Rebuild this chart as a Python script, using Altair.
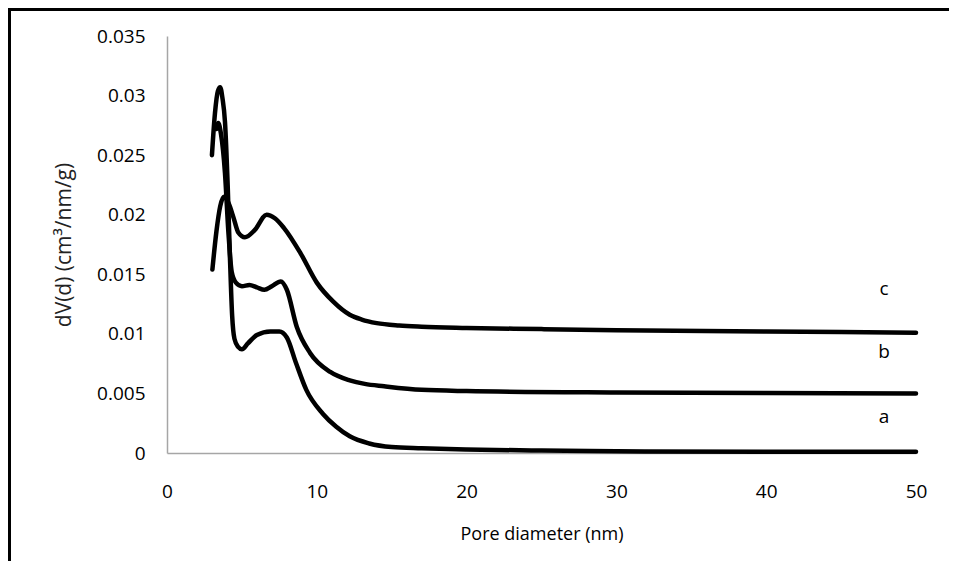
import altair as alt
import pandas as pd

# Curve a (no offset)
a_x = [3.0, 3.2, 3.4, 3.55, 3.7, 3.87, 4.05, 4.2, 4.35, 4.5, 4.75, 5.0, 5.4, 6.0, 6.9, 7.5, 8.0, 8.6, 9.3, 10.4, 11.3, 12.2, 13.5, 15, 17, 20, 25, 30, 40, 50]
a_y = [0.0250, 0.0285, 0.0304, 0.0307, 0.0298, 0.0278, 0.0225, 0.0165, 0.0115, 0.0096, 0.0089, 0.0087, 0.0092, 0.0099, 0.0102, 0.0102, 0.0097, 0.0076, 0.0053, 0.0033, 0.0022, 0.0014, 0.0008, 0.0005, 0.0004, 0.0003, 0.0002, 0.00015, 0.0001, 0.0001]

# Curve b (offset 0.005)
b_x = [3.3, 3.42, 3.6, 3.87, 4.1, 4.32, 4.6, 5.0, 5.5, 6.0, 6.5, 7.0, 7.6, 8.0, 8.66, 9.55, 10.9, 12.2, 13.2, 14.5, 17, 20, 30, 40, 50]
b_y = [0.0272, 0.0277, 0.0268, 0.0235, 0.0185, 0.0152, 0.0143, 0.0140, 0.0141, 0.0139, 0.0137, 0.0140, 0.0144, 0.0137, 0.0106, 0.0084, 0.0068, 0.0061, 0.0058, 0.0056, 0.0053, 0.0052, 0.00508, 0.00503, 0.0050]

# Curve c (offset 0.01)
c_x = [3.03, 3.3, 3.55, 3.8, 4.1, 4.43, 4.76, 5.2, 5.85, 6.65, 7.2, 7.8, 8.9, 10.0, 11.1, 12.2, 13.0, 14.0, 15.5, 17, 20, 25, 30, 40, 50]
c_y = [0.0154, 0.0186, 0.0207, 0.0215, 0.0210, 0.0198, 0.0185, 0.0181, 0.0187, 0.0200, 0.0197, 0.0189, 0.0168, 0.0143, 0.0127, 0.0116, 0.0112, 0.0109, 0.0107, 0.0106, 0.0105, 0.0104, 0.0103, 0.0102, 0.0101]

label_names = ["c", "b", "a"]
label_x = [47.86, 47.86, 47.86]
label_y = [0.01376, 0.00847, 0.00302]

x_ticks = [0, 10, 20, 30, 40, 50]
y_ticks = [0, 0.005, 0.01, 0.015, 0.02, 0.025, 0.03, 0.035]

rows = []
for name, xs, ys in (("a", a_x, a_y), ("b", b_x, b_y), ("c", c_x, c_y)):
    for i, (xv, yv) in enumerate(zip(xs, ys)):
        rows.append({"series": name, "d": xv, "v": yv, "order": i})
df = pd.DataFrame(rows)
labels = pd.DataFrame({"t": label_names, "d": label_x, "v": label_y})

FONT = "Open Sans"
xscale = alt.Scale(domain=[0, 50], nice=False)
yscale = alt.Scale(domain=[0, 0.035], nice=False)

lines = alt.Chart(df).mark_line(
    color="black", strokeWidth=4.5, interpolate="monotone", strokeCap="round", strokeJoin="round"
).encode(
    x=alt.X("d:Q", scale=xscale, axis=alt.Axis(
        values=x_ticks, title="Pore diameter (nm)", grid=False, ticks=False,
        domainColor="#a6a6a6", domainWidth=1.5, labelFont=FONT, labelFontSize=19,
        labelFlush=False, labelColor="black", labelPadding=29, titleFont=FONT,
        titleFontSize=18, titleFontWeight="normal", titleColor="black", titlePadding=24)),
    y=alt.Y("v:Q", scale=yscale, axis=alt.Axis(
        values=y_ticks, format="~g", title="dV(d) (cm³/nm/g)", grid=False, ticks=False,
        domainColor="#a6a6a6", domainWidth=1.5, labelFont=FONT, labelFontSize=19,
        labelFlush=False, labelColor="black", labelPadding=22, titleFont=FONT,
        titleFontSize=21, titleFontWeight="normal", titleColor="#222222", titlePadding=22)),
    detail="series:N",
    order="order:Q",
)

texts = alt.Chart(labels).mark_text(font=FONT, fontSize=19, color="black").encode(
    x=alt.X("d:Q", scale=xscale), y=alt.Y("v:Q", scale=yscale), text="t:N"
)

# outer frame (left and top edges)
frame_left = alt.Chart(pd.DataFrame({"k": [0]})).mark_rule(color="black", strokeWidth=3).encode(
    x=alt.value(-157.5), y=alt.value(-30), y2=alt.value(600)
)
frame_top = alt.Chart(pd.DataFrame({"k": [0]})).mark_rule(color="black", strokeWidth=3).encode(
    x=alt.value(-160), x2=alt.value(800), y=alt.value(-26.5)
)

chart = alt.layer(lines, texts, frame_left, frame_top).properties(
    width=749, height=417,
    autosize=alt.AutoSizeParams(type="none"),
    padding={"left": 159, "top": 28, "right": 33, "bottom": 108},
    background="white",
).configure_view(stroke=None)

chart.save("out.html", embed_options={"renderer": "svg", "actions": False})
